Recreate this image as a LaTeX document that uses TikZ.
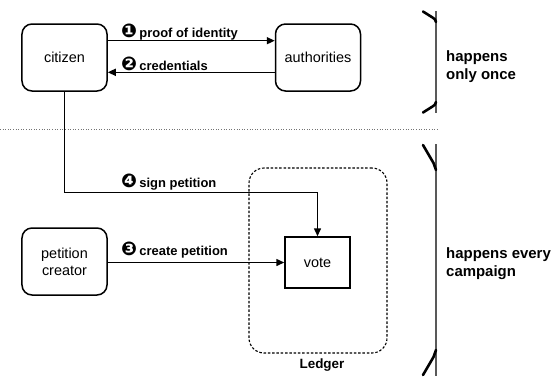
\documentclass[tikz,border=0pt]{standalone}
\usepackage{fontspec}
\setmainfont{Liberation Sans}
\newfontfamily\dv{DejaVu Sans}
\usetikzlibrary{arrows.meta}
\newcommand{\cdig}[1]{{\dv\fontsize{19}{14}\selectfont #1}}
\tikzset{
  rbox/.style={draw, line width=1.5bp, rounded corners=10bp, inner sep=0pt,
    minimum width=85bp, minimum height=67bp, align=center,
    font=\fontsize{14.5}{17}\selectfont},
  sbox/.style={draw, line width=1.5bp, inner sep=0pt,
    minimum width=65bp, minimum height=51bp, align=center,
    font=\fontsize{14.5}{17}\selectfont},
  lbl/.style={anchor=west, inner sep=0pt, font=\bfseries\fontsize{13}{15}\selectfont},
  arr/.style={line width=1.5bp, -{Triangle[length=8bp,width=7bp]}},
  conn/.style={line width=1.5bp},
  ledgerbox/.style={draw, line width=1.1bp, dash pattern=on 2.5bp off 1.8bp,
    rounded corners=15bp, minimum width=138bp, minimum height=185bp, inner sep=0pt},
  bigtxt/.style={anchor=west, inner sep=0pt, align=left,
    font=\bfseries\fontsize{15}{17.5}\selectfont},
  brvert/.style={line width=2bp, draw=black!65},
  brserif/.style={line width=2.6bp, line cap=round}
}
\begin{document}
\begin{tikzpicture}[x=1bp, y=-1bp]
\useasboundingbox (0,0) rectangle (555,376);
% boxes
\node[rbox] (citizen) at (64.5,57.5) {citizen};
\node[rbox] (authorities) at (318,57.5) {authorities};
\node[rbox] (creator) at (64.5,261.5) {petition\\creator};
\node[ledgerbox] (ledger) at (318,260.5) {};
\node[sbox] (vote) at (317.5,262.5) {vote};
\node[anchor=north, inner sep=0pt, font=\bfseries\fontsize{13.5}{16}\selectfont] (ledgerlbl) at (322,359) {Ledger};
% helper coordinates
\coordinate (a1) at (0,40.7);
\coordinate (a2) at (0,72.3);
\coordinate (a4) at (0,192.7);
% connectors
\draw[arr] (citizen.east |- a1) -- (authorities.west |- a1);
\draw[arr] (authorities.west |- a2) -- (citizen.east |- a2);
\draw[conn] (citizen.south) -- (citizen.south |- a4) coordinate (bend);
\draw[arr] (bend) -| (vote.north);
\draw[arr] (creator.east |- vote.west) -- (vote.west);
% labels
\node[lbl] (l1) at (121,32) {\cdig{❶}\,proof of identity};
\node[lbl] (l2) at (121,64) {\cdig{❷}\,credentials};
\node[lbl] (l4) at (121,182.5) {\cdig{❹}\,sign petition};
\node[lbl] (l3) at (121,250.5) {\cdig{❸}\,create petition};
% separator
\draw[draw=black!55, line width=1bp, dash pattern=on 1bp off 1.6bp] (0,129) -- (437,129);
% brackets
\draw[brvert] (436,11) -- (436,113);
\draw[brserif] (423,11.5) -- (432.5,17.5) .. controls (435,19) .. (436,22);
\draw[brserif] (423,112.5) -- (432.5,106.5) .. controls (435,105) .. (436,102);
\draw[brvert] (436,144) -- (436,376);
\draw[brserif] (423,145) -- (433.5,163) .. controls (435.5,166) .. (436,170);
\draw[brserif] (423,375) -- (433.5,357) .. controls (435.5,354) .. (436,350);
\node[bigtxt] (once) at (446,66.5) {happens\\only once};
\node[bigtxt] (every) at (446,263.5) {happens every\\campaign};
\end{tikzpicture}
\end{document}
